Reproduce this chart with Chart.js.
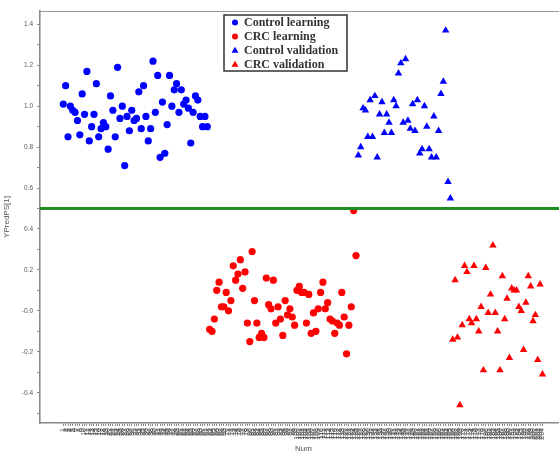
<!DOCTYPE html>
<html>
<head>
<meta charset="utf-8">
<script src="https://cdn.jsdelivr.net/npm/chart.js@4.4.1/dist/chart.umd.min.js"></script>
<style>
  html, body { margin: 0; padding: 0; background: #fff; overflow: hidden; }
  #wrap { width: 559px; height: 451px; overflow: hidden; position: relative; }
  canvas { display: block; }
</style>
</head>
<body>
<div id="wrap"><canvas id="c" width="572" height="456"></canvas></div>
<script>
// YPredPS[1] per observation, in observation order (Num runs 1..N across the four groups)
const controlLearning = [1.01, 1.10, 0.85, 1.00, 0.98, 0.97, 0.93, 0.86, 1.06, 0.96,
  1.17, 0.83, 0.90, 0.96, 1.11, 0.85, 0.89, 0.92, 0.90, 0.79,
  1.05, 0.98, 0.85, 1.19, 0.94, 1.00, 0.71, 0.95, 0.88, 0.98,
  0.93, 0.94, 1.07, 0.89, 1.10, 0.95, 0.83, 0.89, 1.22, 0.97,
  1.15, 0.75, 1.02, 0.77, 0.91, 1.15, 1.00, 1.08, 1.11, 0.97,
  1.08, 1.01, 1.03, 0.99, 0.82, 0.97, 1.05, 1.03, 0.95, 0.90,
  0.95, 0.90];
const crcLearning = [-0.09, -0.10, -0.04, 0.10, 0.14, 0.02, 0.02, 0.09, 0.00, 0.05,
  0.22, 0.15, 0.18, 0.25, 0.11, 0.19, -0.06, -0.15, 0.29, 0.05,
  -0.06, -0.13, -0.11, -0.13, 0.16, 0.03, 0.01, 0.15, -0.06, 0.02,
  -0.04, -0.12, 0.05, -0.02, 0.01, -0.03, -0.07, 0.10, 0.12, 0.09,
  0.09, -0.06, 0.08, -0.11, -0.01, -0.10, 0.01, 0.09, 0.14, 0.01,
  0.04, -0.04, -0.05, -0.11, -0.06, -0.07, 0.09, -0.03, -0.21, -0.07,
  0.02, 0.49, 0.27];
const controlValidation = [0.76, 0.80, 0.99, 0.98, 0.85, 1.03, 0.85, 1.05, 0.75, 0.96,
  1.02, 0.87, 0.96, 0.92, 0.87, 1.03, 1.00, 1.16, 1.21, 0.92,
  1.23, 0.93, 0.89, 1.01, 0.88, 1.03, 0.77, 0.79, 1.00, 0.90,
  0.79, 0.75, 0.95, 0.75, 0.88, 1.06, 1.12, 1.37, 0.63, 0.55];
const crcValidation = [-0.14, 0.15, -0.13, -0.46, -0.07, 0.22, 0.19, -0.04, -0.06, 0.22,
  -0.04, -0.10, 0.02, -0.29, 0.21, -0.01, 0.08, 0.32, -0.01, -0.10,
  -0.29, 0.17, -0.04, 0.06, -0.23, 0.11, 0.10, 0.10, 0.02, 0.00,
  -0.19, 0.04, 0.17, 0.12, -0.05, -0.02, -0.24, 0.13, -0.31];

const seriesNames = ['Control learning', 'CRC learning', 'Control validation', 'CRC validation'];
const classThreshold = 0.5;

const yMajorTicks = [-0.4, -0.2, 0, 0.2, 0.4, 0.6, 0.8, 1.0, 1.2, 1.4];
const yTickLabels = ['-0.4', '-0.2', '-0.0', '0.2', '0.4', '0.6', '0.8', '1.0', '1.2', '1.4'];
const yMinorTicks = [-0.5, -0.3, -0.1, 0.1, 0.3, 0.5, 0.7, 0.9, 1.1, 1.3];

// observation index runs on through the groups
let obs = 0;
const toPoints = vals => vals.map(v => ({ x: ++obs, y: v }));
const groups = [controlLearning, crcLearning, controlValidation, crcValidation].map(toPoints);
const numCount = obs;

Chart.defaults.font.family = "'Liberation Sans', Arial, sans-serif";

const styles = [
  { color: '#0000ff', pointStyle: 'circle', radius: 3.6 },
  { color: '#ff0000', pointStyle: 'circle', radius: 3.6 },
  { color: '#0000ff', pointStyle: 'triangle', radius: 4.3 },
  { color: '#ff0000', pointStyle: 'triangle', radius: 4.3 }
];

const datasets = groups.map((pts, i) => ({
  label: seriesNames[i],
  data: pts,
  pointStyle: styles[i].pointStyle,
  pointRadius: styles[i].radius,
  pointBackgroundColor: styles[i].color,
  pointBorderColor: styles[i].color,
  pointBorderWidth: 0,
  showLine: false
}));

// frame top edge, threshold line and boxed legend
const decorations = {
  id: 'decorations',
  beforeDatasetsDraw(chart) {
    const { ctx, chartArea: a } = chart;
    ctx.save();
    ctx.strokeStyle = '#9a9a9a';
    ctx.lineWidth = 1.2;
    ctx.beginPath();
    ctx.moveTo(a.left, a.top + 0.5);
    ctx.lineTo(a.right, a.top + 0.5);
    ctx.stroke();
    ctx.restore();
  },
  afterDatasetsDraw(chart) {
    const { ctx, chartArea: a, scales } = chart;
    const yT = scales.y.getPixelForValue(classThreshold);
    ctx.save();
    ctx.strokeStyle = '#1e8c1e';
    ctx.lineWidth = 3;
    ctx.beginPath();
    ctx.moveTo(a.left, yT);
    ctx.lineTo(a.right, yT);
    ctx.stroke();

    // legend box
    const bx = 224, by = 15, bw = 123, bh = 56;
    ctx.fillStyle = '#ffffff';
    ctx.fillRect(bx, by, bw, bh);
    ctx.strokeStyle = '#333333';
    ctx.lineWidth = 1.5;
    ctx.strokeRect(bx, by, bw, bh);
    ctx.font = "bold 12px 'Liberation Serif', 'Times New Roman', serif";
    ctx.textBaseline = 'middle';
    ctx.textAlign = 'left';
    chart.data.datasets.forEach((ds, i) => {
      const cy = by + 7.5 + i * 13.9;
      ctx.fillStyle = styles[i].color;
      Chart.helpers.drawPoint(ctx, {
        pointStyle: ds.pointStyle,
        radius: ds.pointStyle === 'triangle' ? 4 : 3,
        rotation: 0,
        borderWidth: 0
      }, 235, cy + (ds.pointStyle === 'triangle' ? 0.5 : 0));
      ctx.fillStyle = '#333333';
      ctx.fillText(ds.label, 244, cy + 0.5);
    });
    ctx.restore();
  }
};

new Chart(document.getElementById('c'), {
  type: 'scatter',
  data: { datasets },
  options: {
    responsive: false,
    animation: false,
    devicePixelRatio: 1,
    events: [],
    layout: { padding: { top: 11, right: 5, left: 0, bottom: 0 } },
    plugins: { legend: { display: false }, tooltip: { enabled: false } },
    scales: {
      x: {
        type: 'linear',
        min: -8.87,
        max: 214.4,
        afterBuildTicks: s => {
          const t = [];
          for (let n = 1; n <= numCount; n++) t.push({ value: n });
          s.ticks = t;
        },
        afterFit: s => { s.height = 33; },
        border: { display: true, color: '#8a8a8a', width: 1.5 },
        grid: { display: true, drawOnChartArea: false, drawTicks: true, tickLength: 3, color: '#8a8a8a' },
        ticks: {
          autoSkip: false,
          minRotation: 90,
          maxRotation: 90,
          padding: 2,
          color: '#4a4a4a',
          font: { size: 7 },
          callback: v => String(v)
        },
        title: { display: true, text: 'Num', color: '#555', font: { size: 8 }, padding: { top: 0, bottom: 2 } }
      },
      y: {
        type: 'linear',
        min: -0.548,
        max: 1.465,
        afterBuildTicks: s => {
          s.ticks = yMajorTicks.concat(yMinorTicks).sort((a, b) => a - b).map(v => ({ value: v }));
        },
        afterFit: s => { s.width = 40; },
        border: { display: true, color: '#8a8a8a', width: 1.6 },
        grid: { display: true, drawOnChartArea: false, drawTicks: true, tickLength: 3, color: '#8a8a8a' },
        ticks: {
          padding: 4,
          color: '#555',
          font: { size: 6.5 },
          callback: v => {
            const i = yMajorTicks.findIndex(m => Math.abs(m - v) < 1e-9);
            return i >= 0 ? yTickLabels[i] : '';
          }
        },
        title: { display: true, text: 'YPredPS[1]', color: '#555', font: { size: 8 }, padding: { top: 2, bottom: 0 } }
      }
    }
  },
  plugins: [decorations]
});
</script>
</body>
</html>
